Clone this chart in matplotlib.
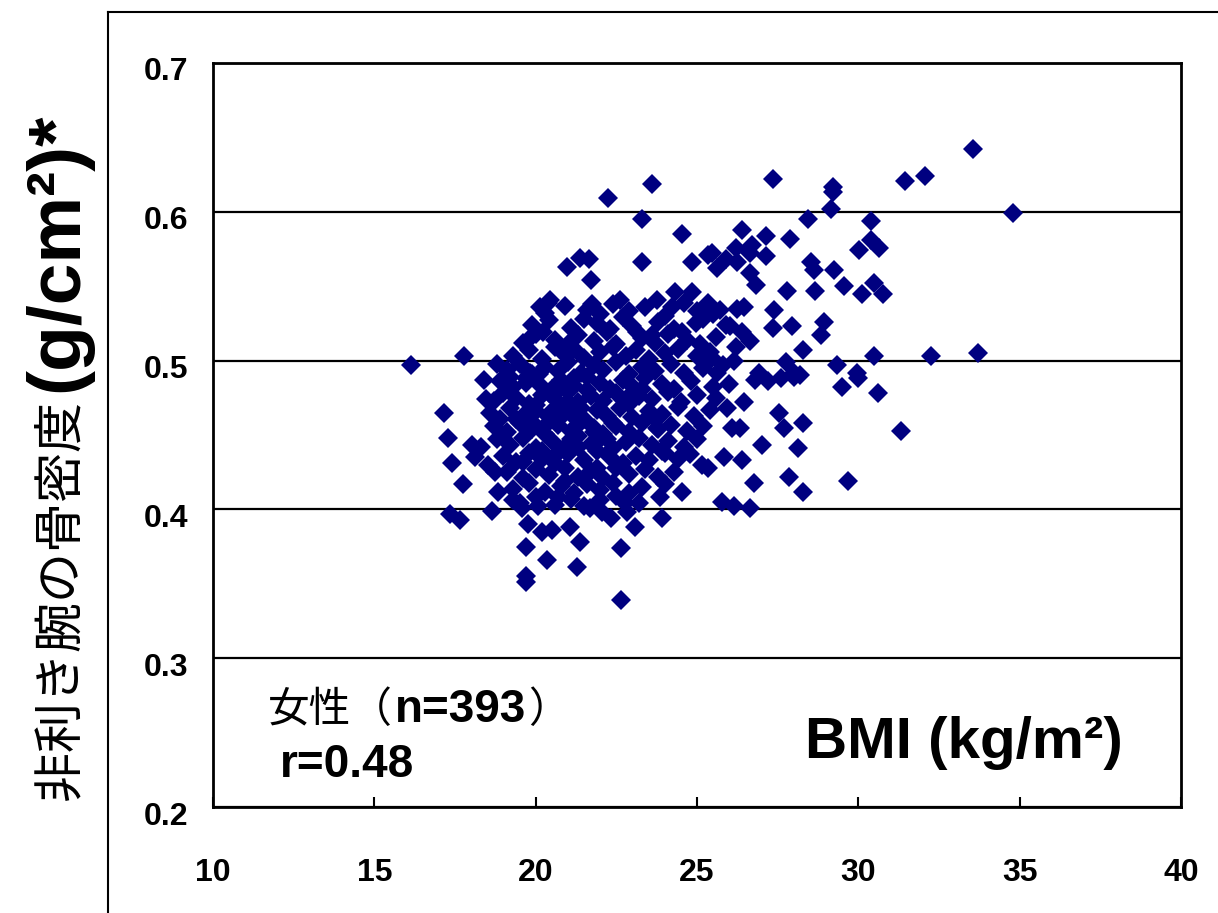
import matplotlib
matplotlib.use('Agg')
import matplotlib.pyplot as plt
from matplotlib.lines import Line2D
from matplotlib.transforms import offset_copy
import numpy as np

# BMI (kg/m2) and forearm BMD (g/cm2), grouped by area of the cloud
bmi_left = [16.13, 17.77, 17.15, 17.28, 17.40, 17.74, 17.34, 17.65, 18.79, 18.39,
            18.45, 18.64, 18.02, 18.30, 18.11, 18.51, 18.73, 18.82, 19.29, 19.57]
bmd_left = [0.497, 0.503, 0.465, 0.448, 0.431, 0.417, 0.397, 0.393, 0.498, 0.487,
            0.474, 0.399, 0.443, 0.442, 0.435, 0.430, 0.425, 0.412, 0.406, 0.401]

bmi_low = [20.06, 19.75, 20.19, 20.50, 19.69, 20.35, 19.69, 19.69, 20.68, 21.05,
           21.36, 21.27, 22.66, 22.66, 23.07, 23.93, 21.67, 22.07, 22.35, 22.82,
           22.76, 23.84, 24.55, 24.77, 25.17, 23.90, 23.75]
bmd_low = [0.402, 0.390, 0.385, 0.386, 0.375, 0.366, 0.355, 0.351, 0.408, 0.388,
           0.378, 0.361, 0.374, 0.339, 0.388, 0.394, 0.401, 0.398, 0.394, 0.398,
           0.404, 0.408, 0.412, 0.437, 0.430, 0.439, 0.455]

bmi_up = [20.12, 20.37, 19.81, 20.22, 19.81, 22.23, 23.62, 23.28, 24.52, 20.96,
          21.36, 21.64, 21.70, 23.28, 24.83, 25.33, 23.75, 24.33, 24.83, 24.24,
          22.60, 21.76, 20.43, 23.13, 23.59, 24.55, 24.98]
bmd_up = [0.536, 0.539, 0.515, 0.519, 0.492, 0.609, 0.619, 0.595, 0.585, 0.563,
          0.569, 0.568, 0.554, 0.566, 0.566, 0.571, 0.541, 0.546, 0.546, 0.536,
          0.541, 0.538, 0.541, 0.519, 0.517, 0.519, 0.525]

bmi_right = [27.37, 29.22, 29.22, 29.16, 28.45, 26.38, 27.15, 27.89, 25.48, 26.22,
             26.69, 26.63, 27.15, 25.91, 25.63, 26.25, 28.54, 28.64, 29.26, 30.03,
             26.63, 26.84, 27.80, 28.67, 29.57, 30.12, 25.33, 25.70, 26.25, 26.47,
             27.40, 27.34, 27.93, 28.95, 28.85, 26.01, 26.41, 26.63, 25.45, 26.16,
             28.30, 27.77, 29.35, 25.63, 26.93, 28.02, 29.97]
bmd_right = [0.622, 0.617, 0.613, 0.602, 0.595, 0.588, 0.584, 0.582, 0.572, 0.576,
             0.578, 0.572, 0.570, 0.568, 0.562, 0.566, 0.566, 0.561, 0.561, 0.574,
             0.559, 0.551, 0.547, 0.547, 0.550, 0.545, 0.539, 0.534, 0.535, 0.536,
             0.534, 0.522, 0.523, 0.526, 0.517, 0.523, 0.519, 0.513, 0.502, 0.500,
             0.507, 0.499, 0.497, 0.492, 0.492, 0.492, 0.492]

bmi_far = [31.45, 32.07, 33.56, 34.80, 30.40, 30.40, 30.65, 30.50, 30.77, 30.50,
           32.26, 33.70, 30.62, 31.33, 30.00, 29.69, 29.50, 28.30, 27.86]
bmd_far = [0.621, 0.624, 0.642, 0.599, 0.594, 0.581, 0.576, 0.552, 0.545, 0.503,
           0.503, 0.505, 0.478, 0.453, 0.488, 0.419, 0.482, 0.412, 0.422]

bmi_mid = [26.47, 27.55, 27.71, 28.27, 27.00, 28.14, 25.85, 26.41, 25.33, 26.78,
           25.79, 26.16, 26.63, 26.10, 26.32, 25.94, 26.80, 27.20, 27.60, 28.00, 28.20]
bmd_mid = [0.472, 0.465, 0.455, 0.458, 0.443, 0.441, 0.435, 0.433, 0.428, 0.418,
           0.405, 0.402, 0.401, 0.455, 0.455, 0.468, 0.487, 0.486, 0.488, 0.489, 0.490]

bmi_core = [20.3, 20.9, 21.6, 22.0, 22.4, 22.9, 23.4, 24.0, 24.6, 25.0, 25.5,
            19.9, 20.4, 21.1, 21.5, 21.9, 22.3, 22.7, 23.0, 23.8, 24.3, 25.2, 25.9,
            19.6, 20.0, 20.6, 21.0, 21.3, 21.8, 22.2, 22.5, 23.3, 23.7, 24.1, 24.7, 25.1, 25.6,
            19.3, 19.8, 20.2, 20.6, 20.9, 21.2, 21.5, 22.0, 22.4, 22.8, 23.1, 23.5, 24.0, 24.4,
            25.0, 25.4, 26.2,
            19.1, 19.5, 19.9, 20.3, 20.7, 21.0, 21.4, 21.8, 22.1, 22.5, 22.9, 23.3, 23.7, 24.2,
            24.6, 25.2, 25.8,
            18.9, 19.3, 19.7, 20.1, 20.5, 20.8, 21.2, 21.6, 22.0, 22.3, 22.7, 23.0, 23.4, 23.9,
            24.3, 24.8, 25.5, 26.0,
            18.7, 19.0, 19.4, 19.8, 20.2, 20.6, 21.0, 21.3, 21.7, 22.1, 22.5, 22.9, 23.2, 23.6,
            24.1, 24.5, 25.0, 25.6,
            18.6, 18.9, 19.2, 19.6, 20.0, 20.4, 20.8, 21.1, 21.5, 21.9, 22.2, 22.6, 23.0, 23.5,
            23.9, 24.4, 24.9, 25.4,
            18.7, 19.1, 19.5, 19.9, 20.3, 20.7, 21.1, 21.4, 21.8, 22.1, 22.5, 22.9, 23.3, 23.8,
            24.2, 24.7, 25.2,
            18.8, 19.2, 19.6, 20.0, 20.5, 20.9, 21.3, 21.7, 22.0, 22.4, 22.8, 23.2, 23.6, 24.1,
            24.6, 25.0,
            19.0, 19.4, 19.8, 20.2, 20.6, 21.0, 21.5, 21.9, 22.3, 22.7, 23.1, 23.5, 24.0, 24.4,
            19.1, 19.6, 20.0, 20.4, 20.9, 21.3, 21.7, 22.1, 22.5, 22.9, 23.4, 23.8, 24.3,
            19.3, 19.8, 20.3, 20.8, 21.2, 21.6, 22.0, 22.4, 22.9, 23.3, 24.0,
            19.5, 20.0, 20.6, 21.1, 21.5, 22.0, 22.5, 23.2,
            19.2, 19.7, 20.1, 20.4, 20.8, 21.2, 21.6, 20.0, 20.5, 21.0, 21.4, 19.4, 19.9, 20.3,
            20.7, 21.1, 21.8, 22.4, 22.8, 23.3, 20.2, 20.6, 21.3, 21.9, 19.6, 20.9, 22.2, 23.6]
bmd_core = [0.532, 0.537, 0.534, 0.531, 0.538, 0.533, 0.536, 0.530, 0.539, 0.533, 0.531,
            0.524, 0.527, 0.522, 0.528, 0.525, 0.521, 0.529, 0.523, 0.526, 0.521, 0.528, 0.524,
            0.512, 0.518, 0.514, 0.511, 0.517, 0.513, 0.519, 0.511, 0.515, 0.512, 0.518, 0.514,
            0.511, 0.516,
            0.503, 0.507, 0.501, 0.509, 0.504, 0.508, 0.502, 0.506, 0.509, 0.503, 0.507, 0.501,
            0.505, 0.508, 0.503, 0.506, 0.509,
            0.494, 0.498, 0.491, 0.496, 0.493, 0.499, 0.492, 0.497, 0.494, 0.499, 0.491, 0.496,
            0.493, 0.498, 0.492, 0.495, 0.497,
            0.486, 0.482, 0.488, 0.484, 0.481, 0.487, 0.483, 0.489, 0.485, 0.481, 0.487, 0.483,
            0.488, 0.484, 0.481, 0.486, 0.482, 0.484,
            0.473, 0.478, 0.475, 0.471, 0.477, 0.474, 0.479, 0.472, 0.476, 0.473, 0.478, 0.471,
            0.476, 0.474, 0.479, 0.472, 0.477, 0.475,
            0.465, 0.461, 0.468, 0.463, 0.466, 0.462, 0.469, 0.464, 0.461, 0.467, 0.463, 0.468,
            0.462, 0.466, 0.464, 0.469, 0.463, 0.467,
            0.456, 0.452, 0.458, 0.454, 0.451, 0.457, 0.453, 0.459, 0.455, 0.451, 0.456, 0.452,
            0.458, 0.454, 0.457, 0.453, 0.456,
            0.447, 0.443, 0.448, 0.441, 0.446, 0.442, 0.449, 0.444, 0.447, 0.441, 0.445, 0.448,
            0.443, 0.446, 0.442, 0.447,
            0.436, 0.432, 0.438, 0.434, 0.431, 0.437, 0.433, 0.439, 0.435, 0.431, 0.436, 0.433,
            0.438, 0.434,
            0.425, 0.421, 0.427, 0.423, 0.428, 0.422, 0.426, 0.421, 0.428, 0.424, 0.427, 0.422,
            0.425,
            0.414, 0.418, 0.412, 0.416, 0.411, 0.417, 0.413, 0.418, 0.411, 0.415, 0.417,
            0.404, 0.408, 0.403, 0.407, 0.402, 0.406, 0.409, 0.404,
            0.489, 0.485, 0.491, 0.478, 0.482, 0.488, 0.480, 0.470, 0.466, 0.472, 0.468, 0.461,
            0.459, 0.456, 0.460, 0.447, 0.452, 0.458, 0.474, 0.481, 0.439, 0.436, 0.442, 0.428,
            0.432, 0.419, 0.447, 0.463]

x_ticks = [10, 15, 20, 25, 30, 35, 40]
y_ticks = [0.2, 0.3, 0.4, 0.5, 0.6, 0.7]

bmi = np.concatenate([bmi_left, bmi_low, bmi_up, bmi_right, bmi_far, bmi_mid, bmi_core])
bmd = np.concatenate([bmd_left, bmd_low, bmd_up, bmd_right, bmd_far, bmd_mid, bmd_core])

W, H = 1218, 913
JP = ['Noto Sans CJK JP', 'DejaVu Sans']
LAT = ['Liberation Sans', 'DejaVu Sans']

fig = plt.figure(figsize=(W / 100, H / 100), dpi=100)
ax = fig.add_axes([213 / W, 1 - 807 / H, (1181 - 213) / W, (807 - 63) / H])

ax.plot(bmi, bmd, 'D', ms=10, color='#000080', mew=0, zorder=3)

ax.set_xlim(10, 40)
ax.set_ylim(0.2, 0.7)
ax.set_xticks(x_ticks)
ax.set_yticks(y_ticks)
ax.set_yticklabels([f'{v:.1f}' for v in y_ticks])
ax.yaxis.grid(True, color='black', lw=1.6)
ax.set_axisbelow(True)
for sp in ax.spines.values():
    sp.set_linewidth(2.0)

ax.tick_params(axis='x', direction='in', length=7, width=1.5, pad=37)
ax.tick_params(axis='y', length=0, pad=18)
for lab in ax.get_xticklabels() + ax.get_yticklabels():
    lab.set_family(LAT)
    lab.set_weight('bold')
    lab.set_fontsize(23)
# value labels sit a little below their grid lines
for tick in ax.yaxis.get_major_ticks():
    tick.label1.set_transform(offset_copy(tick.label1.get_transform(), fig=fig,
                                          x=0, y=-6, units='dots'))

# outer frame of the slide
fig.add_artist(Line2D([108 / W, 108 / W], [0, 1 - 12 / H], transform=fig.transFigure,
                      color='black', lw=1.5))
fig.add_artist(Line2D([108 / W, 1], [1 - 12 / H, 1 - 12 / H], transform=fig.transFigure,
                      color='black', lw=1.5))

renderer = fig.canvas.get_renderer()


def put_run(x, y, parts):
    # lay out text pieces left to right from pixel position (x, y)
    for s, style, gap in parts:
        t = fig.text(x / W, 1 - y / H, s, ha='left', va='baseline', **style)
        x += t.get_window_extent(renderer).width + gap


put_run(268, 722, [('女性（', dict(family=JP, fontsize=30), 2),
                   ('n=393', dict(family=LAT, fontsize=33, weight='bold'), 2),
                   ('）', dict(family=JP, fontsize=30), 0)])
fig.text(280 / W, 1 - 777 / H, 'r=0.48', family=LAT, fontsize=33, weight='bold',
         ha='left', va='baseline')
fig.text(805 / W, 1 - 758 / H, 'BMI (kg/m²)', family=LAT, fontsize=42, weight='bold',
         ha='left', va='baseline')

# y axis title: Japanese part in regular weight, units in bold
t1 = fig.text(60 / W, 1 - 800 / H, '非利き腕の骨密度', family=JP, fontsize=36,
              rotation=90, ha='center', va='bottom')
top = t1.get_window_extent(renderer).y1
fig.text(58 / W, (top + 8) / H, '(g/cm²)*', family=LAT, fontsize=54, weight='bold',
         rotation=90, ha='center', va='bottom')

fig.savefig('out.png', dpi=100)
